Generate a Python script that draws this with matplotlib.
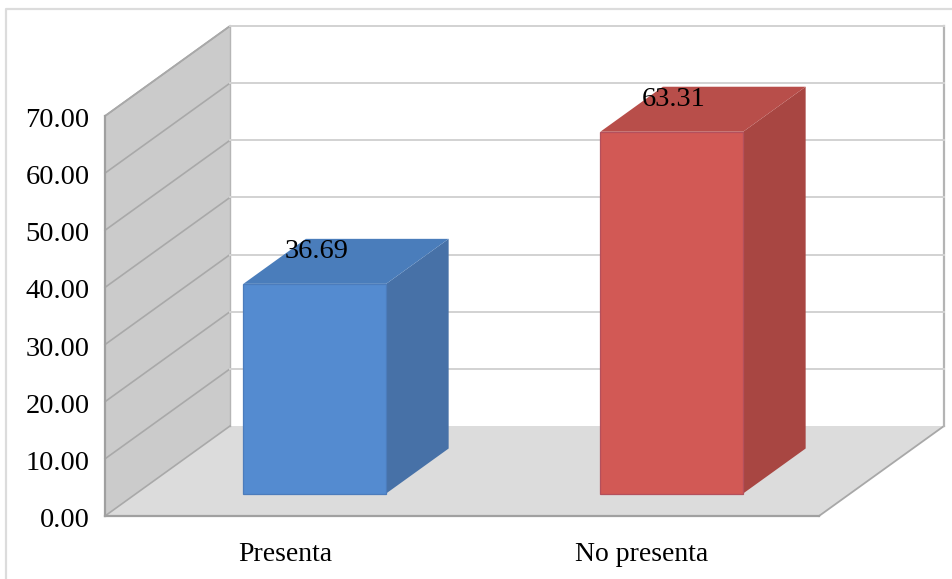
import numpy as np
import matplotlib
matplotlib.use('Agg')
import matplotlib.pyplot as plt
from matplotlib.lines import Line2D
from matplotlib.patches import Polygon
from matplotlib.transforms import ScaledTranslation

categories = ['Presenta', 'No presenta']
values = [36.69, 63.31]
yticks = [0, 10, 20, 30, 40, 50, 60, 70]

front_colors = ['#548bd0', '#d25955']
front_edges = ['#4c7cbc', '#b4505c']
top_colors = ['#4a7dbb', '#b84e4a']
side_colors = ['#4771a7', '#a84642']

W, H = 952, 579
plt.rcParams['font.family'] = ['Liberation Serif', 'DejaVu Serif']

fig = plt.figure(figsize=(W / 100, H / 100), dpi=100)
# axes cover the front plane of the box
left, right, bottom, top = 105, 819, 516, 116
ax = fig.add_axes([left / W, 1 - bottom / H, (right - left) / W, (bottom - top) / H])
ax.set_xlim(0, 2)
ax.set_ylim(0, 70)
ax.patch.set_visible(False)

# oblique offset of the full box depth, in data units
depth_x = 125 / ((right - left) / 2)
depth_y = 90 / ((bottom - top) / 70)


def pt(x, v, d):
    return (x + d * depth_x, v + d * depth_y)


def face(points, color, z, edge='none', lw=0):
    ax.add_patch(Polygon(points, closed=True, facecolor=color, edgecolor=edge,
                         linewidth=lw, zorder=z, clip_on=False))


# outer frame, only left and top reach inside the image
fig.add_artist(Line2D([6 / W, 6 / W, 1], [0, 1 - 9 / H, 1 - 9 / H], transform=fig.transFigure,
                      color='#dcdcdc', linewidth=1.6))

# walls and floor
face([pt(0, 0, 0), pt(0, 70, 0), pt(0, 70, 1), pt(0, 0, 1)], '#cbcbcb', 1)
face([pt(0, 0, 0), pt(0, 0, 1), pt(2, 0, 1), pt(2, 0, 0)], '#dcdcdc', 1)
ax.plot(*zip(pt(2, 0, 0), pt(2, 0, 1)), color='#a8a8a8', lw=1.3, zorder=2, clip_on=False)
ax.plot(*zip(pt(0, 70, 0), pt(0, 70, 1)), color='#a6a6a6', lw=1.2, zorder=2, clip_on=False)
ax.plot(*zip(pt(0, 0, 1), pt(0, 70, 1)), color='#b5b5b5', lw=1, zorder=2, clip_on=False)
ax.plot(*zip(pt(2, 0, 1), pt(2, 70, 1)), color='#b4b4b4', lw=1.6, zorder=2, clip_on=False)

# gridlines run along the side wall, then across the back wall
for v in yticks:
    ax.plot(*zip(pt(0, v, 0), pt(0, v, 1)), color='#a9a9a9', lw=1.2, zorder=2, clip_on=False)
    if v > 0:
        ax.plot(*zip(pt(0, v, 1), pt(2, v, 1)), color='#d2d2d2', lw=1.4, zorder=2, clip_on=False)

# bars
bar_w = 0.4
d0, d1 = 0.25, 0.75
for i, v in enumerate(values):
    x0 = i + 0.5 - bar_w / 2
    x1 = i + 0.5 + bar_w / 2
    face([pt(x1, 0, d0), pt(x1, v, d0), pt(x1, v, d1), pt(x1, 0, d1)], side_colors[i], 3)
    face([pt(x0, v, d0), pt(x0, v, d1), pt(x1, v, d1), pt(x1, v, d0)], top_colors[i], 3)
    face([pt(x0, 0, d0), pt(x0, v, d0), pt(x1, v, d0), pt(x1, 0, d0)], front_colors[i], 4,
         edge=front_edges[i], lw=0.9)
    ax.annotate(f'{v:.2f}', xy=pt(i + 0.5, v, 0.5), xytext=(-21, 7), textcoords='offset points',
                ha='center', va='center', fontsize=20.5, color='black', zorder=6,
                annotation_clip=False)

ax.set_xticks([i + 0.5 for i in range(len(categories))], categories)
ax.set_yticks(yticks, [f'{v:.2f}' for v in yticks])
ax.tick_params(axis='y', length=0, labelsize=20.5, labelcolor='black', pad=11)
ax.tick_params(axis='x', length=0, labelsize=20, labelcolor='black', pad=18.5)

# nudge the axis labels so the digits sit level with their gridlines
for lab in ax.get_yticklabels():
    lab.set_transform(lab.get_transform() + ScaledTranslation(0, -1.5 / 100, fig.dpi_scale_trans))
for lab in ax.get_xticklabels():
    lab.set_transform(lab.get_transform() + ScaledTranslation(1.5 / 100, 0, fig.dpi_scale_trans))

for name in ['top', 'right']:
    ax.spines[name].set_visible(False)
for name in ['left', 'bottom']:
    ax.spines[name].set_color('#a0a0a0')
    ax.spines[name].set_linewidth(1.6)
    ax.spines[name].set_zorder(5)

fig.savefig('out.png', dpi=100)
